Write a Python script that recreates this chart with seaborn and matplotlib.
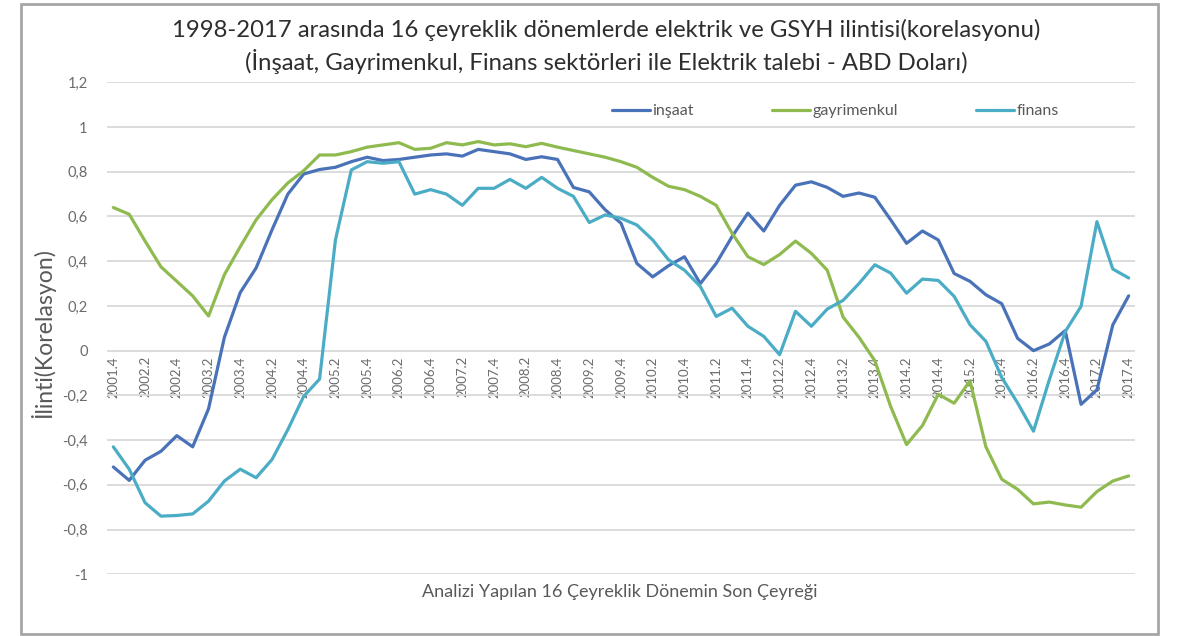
import pandas as pd
import matplotlib
matplotlib.use('Agg')
import matplotlib.pyplot as plt
import seaborn as sns
from matplotlib.patches import Rectangle
from matplotlib.ticker import FuncFormatter

# Çeyrekler: 2001.4 - 2017.4
ceyrekler = ['2001.4'] + [f'{y}.{q}' for y in range(2002, 2018) for q in range(1, 5)]

# Korelasyon değerleri
insaat = [-0.52, -0.58, -0.49, -0.45, -0.38, -0.43, -0.26, 0.06, 0.26, 0.37,
          0.54, 0.70, 0.79, 0.81, 0.82, 0.845, 0.865, 0.85, 0.855, 0.865,
          0.875, 0.88, 0.87, 0.90, 0.89, 0.88, 0.855, 0.867, 0.855, 0.73,
          0.71, 0.63, 0.57, 0.39, 0.33, 0.38, 0.42, 0.30, 0.39, 0.51,
          0.615, 0.535, 0.65, 0.74, 0.755, 0.73, 0.69, 0.705, 0.686, 0.585,
          0.48, 0.535, 0.495, 0.345, 0.31, 0.25, 0.21, 0.055, 0.0, 0.03,
          0.09, -0.24, -0.175, 0.115, 0.245]
gayrimenkul = [0.64, 0.61, 0.49, 0.375, 0.31, 0.245, 0.155, 0.34, 0.465, 0.585,
               0.675, 0.75, 0.805, 0.875, 0.875, 0.89, 0.91, 0.92, 0.93, 0.90,
               0.905, 0.93, 0.92, 0.935, 0.92, 0.925, 0.912, 0.927, 0.91, 0.895,
               0.88, 0.865, 0.845, 0.82, 0.775, 0.735, 0.72, 0.69, 0.65, 0.525,
               0.42, 0.385, 0.43, 0.49, 0.435, 0.36, 0.15, 0.06, -0.045, -0.25,
               -0.42, -0.335, -0.195, -0.235, -0.135, -0.43, -0.575, -0.62, -0.685, -0.677,
               -0.69, -0.70, -0.63, -0.583, -0.56]
finans = [-0.43, -0.53, -0.68, -0.74, -0.737, -0.73, -0.673, -0.583, -0.53, -0.568,
          -0.487, -0.353, -0.204, -0.127, 0.495, 0.808, 0.845, 0.838, 0.845, 0.70,
          0.72, 0.70, 0.65, 0.726, 0.726, 0.766, 0.726, 0.775, 0.726, 0.69,
          0.573, 0.607, 0.592, 0.562, 0.495, 0.406, 0.36, 0.287, 0.153, 0.19,
          0.109, 0.064, -0.018, 0.176, 0.109, 0.186, 0.225, 0.30, 0.384, 0.347,
          0.257, 0.32, 0.314, 0.243, 0.116, 0.042, -0.12, -0.234, -0.36, -0.13,
          0.085, 0.198, 0.577, 0.365, 0.325]

seriler = ['inşaat', 'gayrimenkul', 'finans']
renkler = ['#4a72b8', '#8fba4f', '#4bacc6']

# Uzun formatta DataFrame
frames = []
for ad, degerler in zip(seriler, [insaat, gayrimenkul, finans]):
    frames.append(pd.DataFrame({'idx': range(len(ceyrekler)), 'deger': degerler, 'seri': ad}))
df = pd.concat(frames, ignore_index=True)

sns.set_style('white')
plt.rcParams['font.family'] = ['Lato', 'DejaVu Sans']

fig = plt.figure(figsize=(11.89, 6.36), dpi=100)
ax = fig.add_axes([107 / 1189, 1 - 574.3 / 636, (1135 - 107) / 1189, (574.3 - 82.3) / 636])

sns.lineplot(data=df, x='idx', y='deger', hue='seri', hue_order=seriler,
             palette=renkler, linewidth=2.3, ax=ax)

ax.set_xlim(-0.4, 64.4)
ax.set_ylim(-1, 1.2)
ax.set_yticks([-1 + 0.2 * k for k in range(12)])
ax.yaxis.set_major_formatter(FuncFormatter(lambda v, p: f'{round(v, 1):g}'.replace('.', ',') if abs(v) > 1e-9 else '0'))
ax.grid(axis='y', color='#d9d9d9', linewidth=1.3)
ax.grid(axis='x', visible=False)
ax.set_axisbelow(True)
for s in ax.spines.values():
    s.set_visible(False)

# x ekseni etiketleri 0 çizgisinde
ax.spines['bottom'].set_position(('data', 0))
ax.set_xticks(range(0, len(ceyrekler), 2))
ax.set_xticklabels(ceyrekler[::2], rotation=90)
ax.tick_params(axis='x', length=0, pad=4, labelsize=9.5, labelcolor='#6b6b6b')
ax.tick_params(axis='y', length=0, pad=14, labelsize=10.5, labelcolor='#6b6b6b')
ax.set_xlabel('')
ax.set_ylabel('')

# Lejant
h, l = ax.get_legend_handles_labels()
ax.legend(h, l, ncol=3, frameon=False, loc='center left',
          bbox_to_anchor=(612 / 1189, 1 - 111 / 636), bbox_transform=fig.transFigure,
          borderpad=0, borderaxespad=0, handlelength=2.4, handletextpad=0.12,
          columnspacing=4.9, prop={'size': 11.5}, labelcolor='#595959')

fig.text(0.51, 1 - 30 / 636, '1998-2017 arasında 16 çeyreklik dönemlerde elektrik ve GSYH ilintisi(korelasyonu)',
         ha='center', va='center', fontsize=17.2, color='#2e2e2e')
fig.text(0.51, 1 - 61 / 636, '(İnşaat, Gayrimenkul, Finans sektörleri ile Elektrik talebi - ABD Doları)',
         ha='center', va='center', fontsize=17.2, color='#2e2e2e')
fig.text(43 / 1189, 1 - 333 / 636, 'İlinti(Korelasyon)', rotation=90,
         ha='center', va='center', fontsize=16.6, color='#595959')
fig.text(620 / 1189, 1 - 592 / 636, 'Analizi Yapılan 16 Çeyreklik Dönemin Son Çeyreği',
         ha='center', va='center', fontsize=13, color='#595959')

# Dış çerçeve
fig.patches.append(Rectangle((21 / 1189, 2 / 636), (1158 - 21) / 1189, (634 - 4) / 636,
                             fill=False, edgecolor='#a6a6a6', linewidth=2,
                             transform=fig.transFigure, figure=fig))

fig.savefig('out.png', dpi=100)
